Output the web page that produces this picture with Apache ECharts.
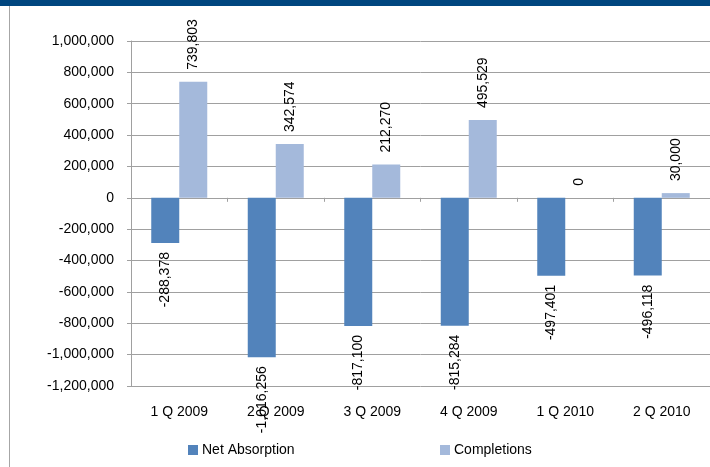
<!DOCTYPE html>
<html>
<head>
<meta charset="utf-8">
<script src="https://cdn.jsdelivr.net/npm/echarts@6/dist/echarts.min.js"></script>
<style>
  html, body { margin: 0; padding: 0; background: #ffffff; }
  #chart { width: 710px; height: 467px; }
</style>
</head>
<body>
<div id="chart"></div>
<script>
// Quarterly office market figures
const categories = ['1 Q 2009', '2 Q 2009', '3 Q 2009', '4 Q 2009', '1 Q 2010', '2 Q 2010'];
const netAbsorption = [-288378, -1016256, -817100, -815284, -497401, -496118];
const completions = [739803, 342574, 212270, 495529, 0, 30000];
const seriesNames = ['Net Absorption', 'Completions'];

const FONT = '"Liberation Sans", Arial, sans-serif';
const fmt = v => v.toLocaleString('en-US');

// Rotated value labels: above positive columns, below negative ones
function withLabels(values) {
  return values.map(v => ({
    value: v,
    label: v >= 0
      ? { position: 'top', align: 'left', verticalAlign: 'middle', distance: 12 }
      : { position: 'bottom', align: 'right', verticalAlign: 'middle', distance: 9 }
  }));
}

const chart = echarts.init(document.getElementById('chart'), null, { renderer: 'canvas' });

const labelStyle = {
  show: true,
  rotate: 90,
  fontFamily: FONT,
  fontSize: 14,
  color: '#000000',
  formatter: p => fmt(p.value)
};

const legendBase = {
  top: 443,
  padding: 0,
  itemWidth: 10, itemHeight: 10, itemGap: 4,
  icon: 'rect',
  textStyle: { fontFamily: FONT, fontSize: 14, color: '#000000', padding: [0, 0, 0, -1] }
};

chart.setOption({
  animation: false,
  backgroundColor: '#ffffff',
  textStyle: { fontFamily: FONT },
  graphic: [
    { type: 'rect', shape: { x: 0, y: 0, width: 710, height: 6 }, style: { fill: '#00467f' }, z: 100 },
    { type: 'line', shape: { x1: 9.5, y1: 6, x2: 9.5, y2: 467 }, style: { stroke: '#a6a6a6', lineWidth: 1 }, z: 100 }
  ],
  legend: [
    Object.assign({ data: [seriesNames[0]], left: 188 }, legendBase),
    Object.assign({ data: [seriesNames[1]], left: 440 }, legendBase)
  ],
  grid: { left: 131, top: 41, width: 588, height: 345, containLabel: false },
  xAxis: [
    {
      type: 'category',
      data: categories,
      axisLine: { onZero: true, lineStyle: { color: '#a0a0a0', width: 1 } },
      axisTick: { show: true, length: 4, inside: false, alignWithLabel: false, lineStyle: { color: '#a0a0a0' } },
      axisLabel: { show: false },
      splitLine: { show: false }
    },
    {
      type: 'category',
      data: categories,
      position: 'bottom',
      axisLine: { show: false, onZero: false },
      axisTick: { show: false },
      axisLabel: { show: true, margin: 19, fontFamily: FONT, fontSize: 14, color: '#000000' }
    }
  ],
  yAxis: {
    type: 'value',
    min: -1200000,
    max: 1000000,
    interval: 200000,
    axisLine: { show: true, lineStyle: { color: '#a0a0a0', width: 1 } },
    axisTick: { show: true, length: 4, lineStyle: { color: '#a0a0a0' } },
    axisLabel: { margin: 17, fontFamily: FONT, fontSize: 14, color: '#000000', formatter: v => fmt(v) },
    splitLine: { show: true, lineStyle: { color: '#a0a0a0', width: 1 } }
  },
  series: [
    {
      name: seriesNames[0],
      type: 'bar',
      xAxisIndex: 0,
      barWidth: 28,
      barGap: '0%',
      itemStyle: { color: '#5283bb' },
      label: labelStyle,
      data: withLabels(netAbsorption)
    },
    {
      name: seriesNames[1],
      type: 'bar',
      xAxisIndex: 0,
      barWidth: 28,
      barGap: '0%',
      itemStyle: { color: '#a4b9db' },
      label: labelStyle,
      data: withLabels(completions)
    }
  ]
});
</script>
</body>
</html>
